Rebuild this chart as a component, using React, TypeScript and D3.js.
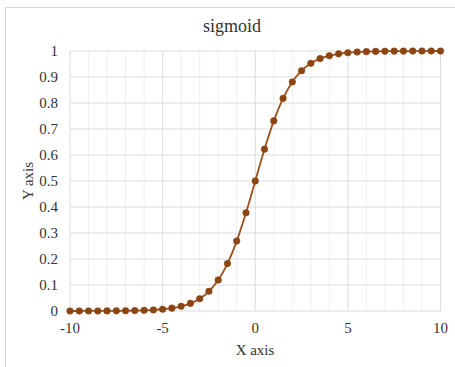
import React from "react";
import * as d3 from "d3";

const xValues: number[] = [
  -10, -9.5, -9, -8.5, -8, -7.5, -7, -6.5, -6, -5.5, -5, -4.5, -4, -3.5, -3, -2.5, -2, -1.5, -1, -0.5,
  0, 0.5, 1, 1.5, 2, 2.5, 3, 3.5, 4, 4.5, 5, 5.5, 6, 6.5, 7, 7.5, 8, 8.5, 9, 9.5, 10,
];
const yValues: number[] = [
  0.0000, 0.0001, 0.0001, 0.0002, 0.0003, 0.0006, 0.0009, 0.0015, 0.0025, 0.0041, 0.0067, 0.0110, 0.0180, 0.0293, 0.0474, 0.0759, 0.1192, 0.1824, 0.2689, 0.3775,
  0.5, 0.6225, 0.7311, 0.8176, 0.8808, 0.9241, 0.9526, 0.9707, 0.9820, 0.9890, 0.9933, 0.9959, 0.9975, 0.9985, 0.9991, 0.9994, 0.9997, 0.9998, 0.9999, 0.9999, 1.0000,
];
const xTicks: number[] = [-10, -5, 0, 5, 10];
const xMinorTicks: number[] = [-9, -8, -7, -6, -4, -3, -2, -1, 1, 2, 3, 4, 6, 7, 8, 9];
const yTicks: number[] = [0, 0.1, 0.2, 0.3, 0.4, 0.5, 0.6, 0.7, 0.8, 0.9, 1];

const W = 455;
const H = 367;
const font = "'Liberation Serif', 'Times New Roman', serif";

export default function App() {
  const x = d3.scaleLinear().domain([-10, 10]).range([70, 440.5]);
  const y = d3.scaleLinear().domain([0, 1]).range([311, 51]);
  const pts = xValues.map((v, i) => [v, yValues[i]] as [number, number]);
  const line = d3
    .line<[number, number]>()
    .x((d) => x(d[0]))
    .y((d) => y(d[1]))
    .curve(d3.curveMonotoneX);

  return (
    <svg
      width={W}
      height={H}
      style={{ position: "absolute", left: 0, top: 0, background: "#fff" }}
    >
      <rect x={5.5} y={7.5} width={470} height={380} fill="#fff" stroke="#d9d9d9" strokeWidth={1} />
      <text x={232} y={32} textAnchor="middle" fontFamily={font} fontSize={18} fill="#333">
        sigmoid
      </text>
      {xMinorTicks.map((t) => (
        <line key={"mx" + t} x1={x(t)} x2={x(t)} y1={y(1)} y2={y(0)} stroke="#efefef" strokeWidth={1} />
      ))}
      {yTicks.map((t) => (
        <line key={"gy" + t} x1={x(-10)} x2={x(10)} y1={y(t)} y2={y(t)} stroke="#dcdcdc" strokeWidth={1} />
      ))}
      {xTicks.map((t) => (
        <line key={"gx" + t} x1={x(t)} x2={x(t)} y1={y(1)} y2={y(0)} stroke="#dcdcdc" strokeWidth={1} />
      ))}
      {yTicks.map((t) => (
        <text key={"ty" + t} x={58} y={y(t) + 5} textAnchor="end" fontFamily={font} fontSize={15} fill="#333">
          {d3.format("")(+t.toFixed(1))}
        </text>
      ))}
      {xTicks.map((t) => (
        <text key={"tx" + t} x={x(t)} y={333} textAnchor="middle" fontFamily={font} fontSize={15} fill="#333">
          {t}
        </text>
      ))}
      <text x={255} y={355} textAnchor="middle" fontFamily={font} fontSize={15} fill="#333">
        X axis
      </text>
      <text
        transform={`translate(33, ${y(0.5)}) rotate(-90)`}
        textAnchor="middle"
        fontFamily={font}
        fontSize={15}
        fill="#333"
      >
        Y axis
      </text>
      <path d={line(pts) || ""} fill="none" stroke="#9E4F1C" strokeWidth={1.8} />
      {pts.map((p, i) => (
        <circle key={i} cx={x(p[0])} cy={y(p[1])} r={3.3} fill="#8B4513" stroke="#8B4513" strokeWidth={0.5} />
      ))}
    </svg>
  );
}
